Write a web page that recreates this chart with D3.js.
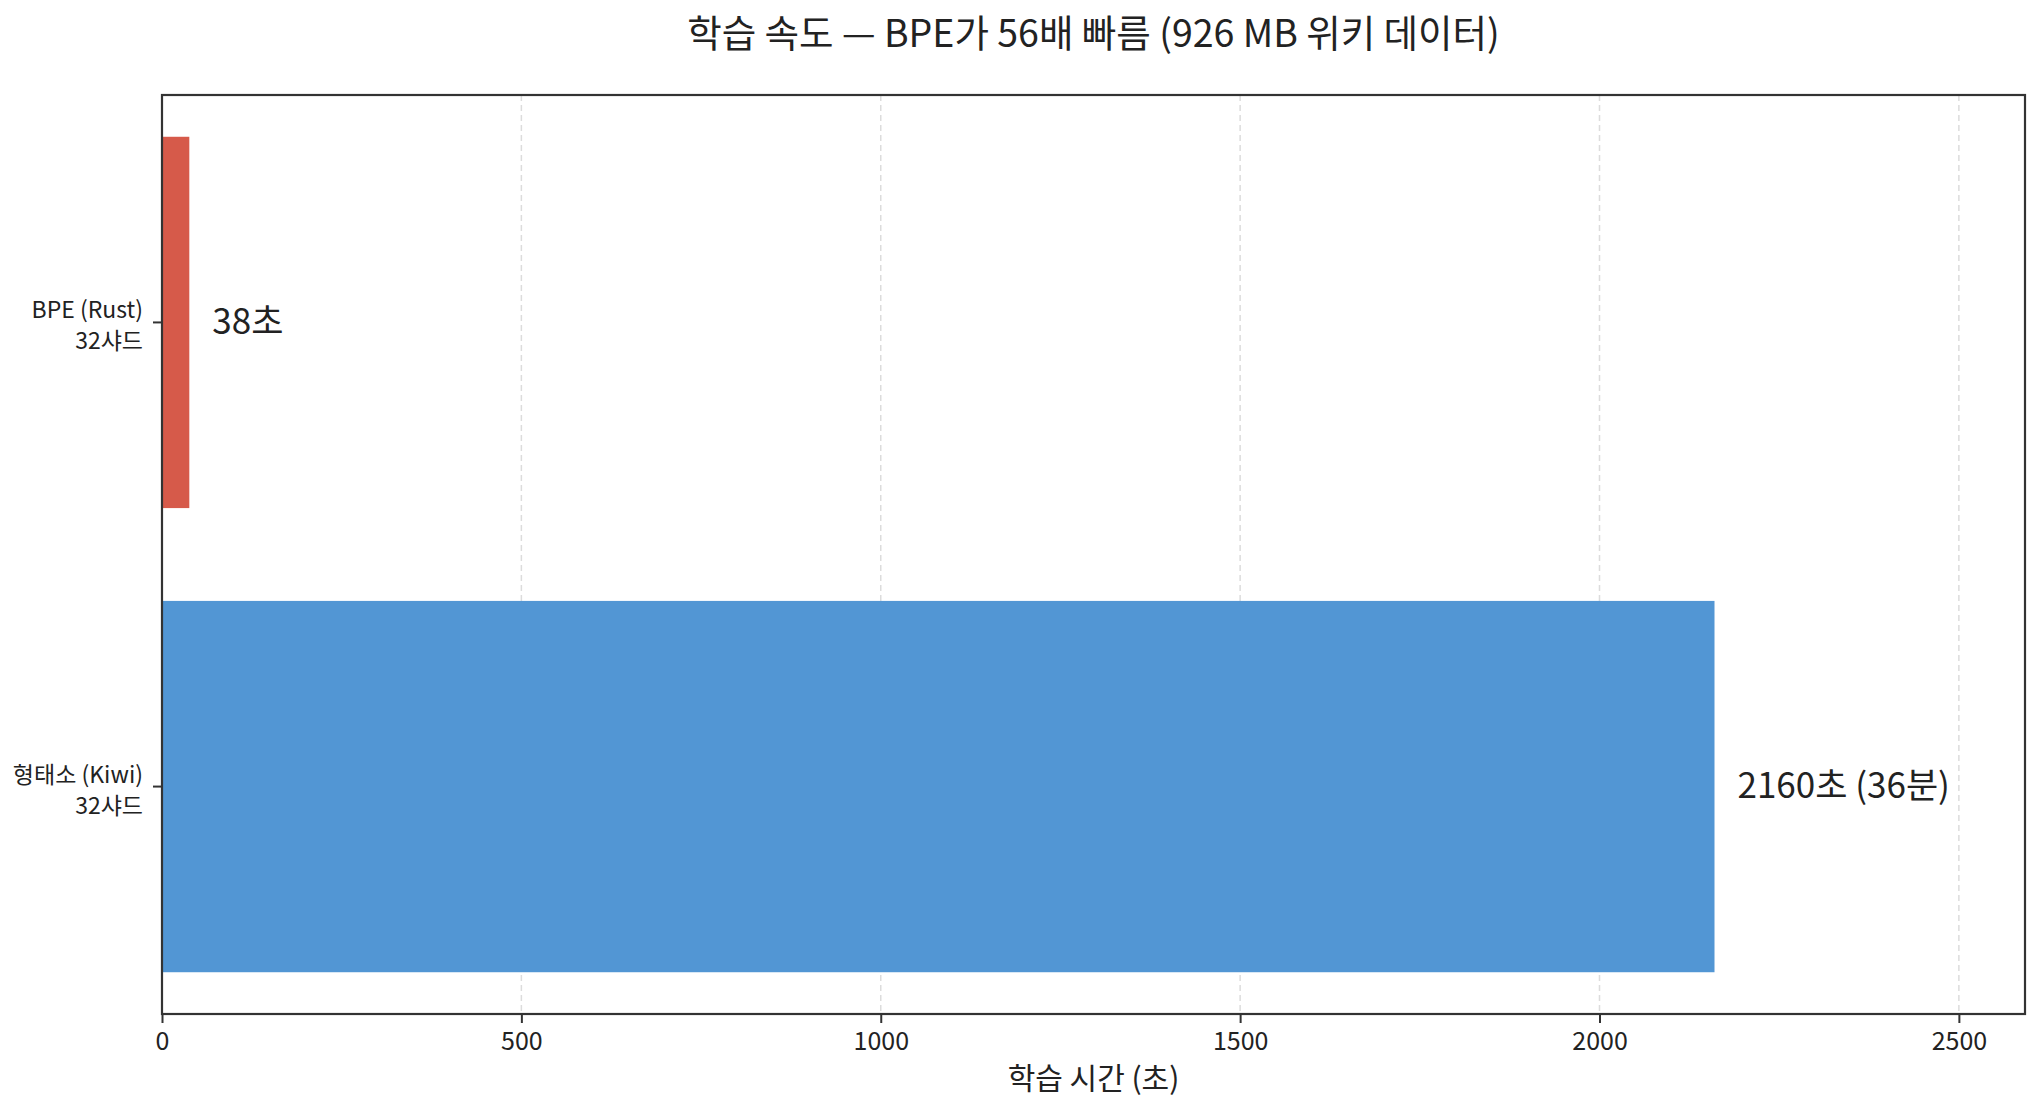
<!DOCTYPE html>
<html>
<head>
<meta charset="utf-8">
<script src="https://cdn.jsdelivr.net/npm/d3@7"></script>
<style>
    body { margin: 0; background: #fff; }
    text { font-family: "Noto Sans CJK KR", "Noto Sans", sans-serif; fill: #222; }
</style>
</head>
<body>
<div id="chart"></div>
<script>
// chart data
var categories = ["BPE (Rust)\n32샤드", "형태소 (Kiwi)\n32샤드"];
var seconds = [38, 2160];
var valueLabels = ["38초", "2160초 (36분)"];
var barColors = ["#d65a4a", "#5296d4"];
var xTicks = [0, 500, 1000, 1500, 2000, 2500];

var titleText = "학습 속도 — BPE가 56배 빠름 (926 MB 위키 데이터)";
var xLabelText = "학습 시간 (초)";

(function () {
    'use strict';

    var W = 2042, H = 1104;
    var margin = {top: 95, right: 17, bottom: 90, left: 162};
    var width = W - margin.left - margin.right;
    var height = H - margin.top - margin.bottom;

    var svg = d3.select("#chart")
        .append("svg")
        .attr("width", W)
        .attr("height", H);

    var g = svg.append("g")
        .attr("transform", "translate(" + margin.left + "," + margin.top + ")");

    // x limit leaves 20% room for the labels
    var x = d3.scaleLinear()
        .domain([0, d3.max(seconds) * 1.2])
        .range([0, width]);

    var y = d3.scaleBand()
        .domain(categories)
        .range([0, height])
        .paddingInner(0.2)
        .paddingOuter(0.09);

    // grid
    g.selectAll(".grid")
        .data(xTicks.filter(function (d) { return d > 0; }))
        .enter().append("line")
        .attr("class", "grid")
        .attr("x1", function (d) { return x(d); })
        .attr("x2", function (d) { return x(d); })
        .attr("y1", 0)
        .attr("y2", height)
        .attr("stroke", "#dcdcdc")
        .attr("stroke-width", 1.5)
        .attr("stroke-dasharray", "6,4");

    // bars
    g.selectAll(".bar")
        .data(categories)
        .enter().append("rect")
        .attr("class", "bar")
        .attr("x", x(0))
        .attr("y", function (d) { return y(d); })
        .attr("width", function (d, i) { return x(seconds[i]) - x(0); })
        .attr("height", y.bandwidth())
        .attr("fill", function (d, i) { return barColors[i]; });

    // value labels
    g.selectAll(".val")
        .data(categories)
        .enter().append("text")
        .attr("class", "val")
        .attr("x", function (d, i) { return x(seconds[i]) + 23; })
        .attr("y", function (d) { return y(d) + y.bandwidth() / 2 - 4; })
        .attr("dominant-baseline", "central")
        .style("font-size", "35px")
        .text(function (d, i) { return valueLabels[i]; });

    // x axis
    var xAxis = g.append("g")
        .attr("class", "axis axis--x")
        .attr("transform", "translate(0," + height + ")")
        .call(d3.axisBottom(x).tickValues(xTicks).tickSize(9).tickPadding(9).tickFormat(d3.format("d")));
    xAxis.select(".domain").remove();
    xAxis.selectAll(".tick line").attr("stroke", "#333").attr("stroke-width", 2);
    xAxis.selectAll(".tick text").style("font-size", "25px").attr("fill", "#222");

    // y axis, two-line labels
    var yAxis = g.append("g")
        .attr("class", "axis axis--y")
        .call(d3.axisLeft(y).tickSize(9).tickFormat(""));
    yAxis.select(".domain").remove();
    yAxis.selectAll(".tick line").attr("stroke", "#333").attr("stroke-width", 2);

    yAxis.selectAll(".tick").each(function (d) {
        var t = d3.select(this).append("text")
            .attr("text-anchor", "end")
            .attr("x", -19)
            .style("font-size", "23px");
        d.split("\n").forEach(function (line, i) {
            t.append("tspan")
                .attr("x", -19)
                .attr("y", i === 0 ? -14 : 17)
                .attr("dominant-baseline", "central")
                .text(line);
        });
    });

    // frame
    g.append("rect")
        .attr("x", 0)
        .attr("y", 0)
        .attr("width", width)
        .attr("height", height)
        .attr("fill", "none")
        .attr("stroke", "#333")
        .attr("stroke-width", 2.2);

    // titles
    svg.append("text")
        .attr("x", margin.left + width / 2)
        .attr("y", 30)
        .attr("text-anchor", "middle")
        .attr("dominant-baseline", "central")
        .style("font-size", "37.5px")
        .text(titleText);

    svg.append("text")
        .attr("x", margin.left + width / 2)
        .attr("y", 1076)
        .attr("text-anchor", "middle")
        .attr("dominant-baseline", "central")
        .style("font-size", "30px")
        .text(xLabelText);
})();
</script>
</body>
</html>
